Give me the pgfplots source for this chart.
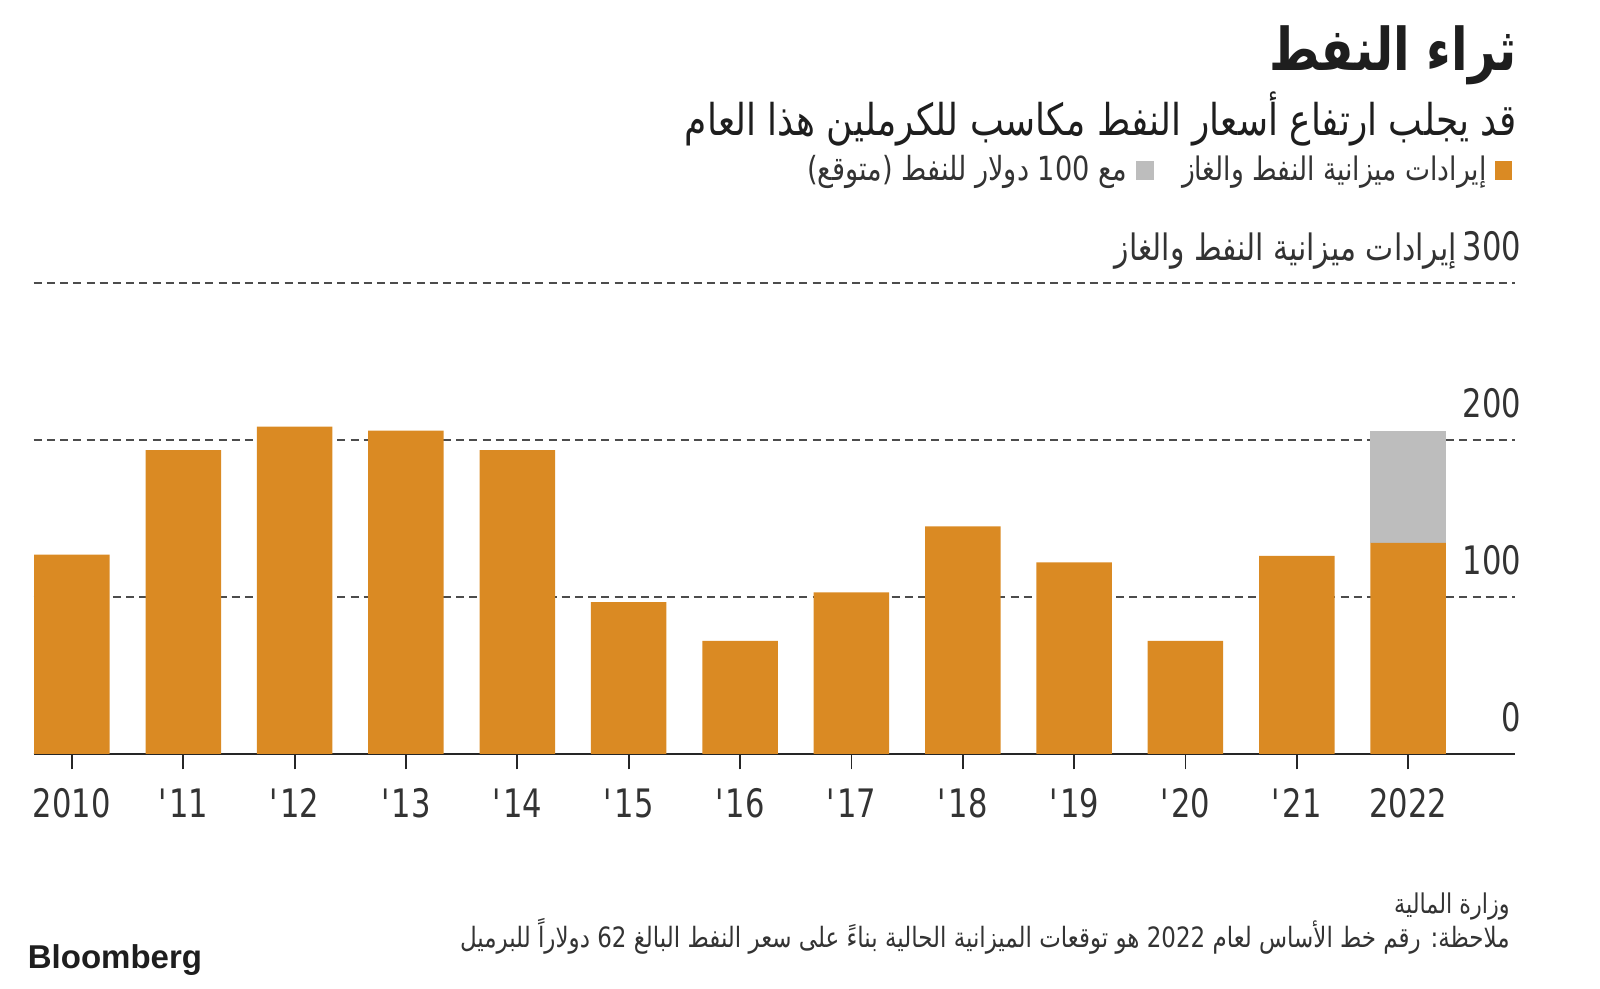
\documentclass[border=0pt]{standalone}
\usepackage{pgfplots}
\pgfplotsset{compat=1.18}
\usepackage{fontspec}
\setmainfont{DejaVu Sans}
\newfontfamily\arabicfont[Script=Arabic,FakeStretch=0.82]{DejaVu Sans}
\newfontfamily\numfont[FakeStretch=0.78]{DejaVu Sans}
\newfontfamily\logofont{Liberation Sans}
\TeXXeTstate=1
\definecolor{barorange}{HTML}{DA8A23}
\definecolor{bargray}{HTML}{BDBDBD}
\definecolor{txt}{HTML}{1E1E1E}
\definecolor{txtb}{HTML}{333333}

\pgfplotstableread{
x main extra
0 127.0 0
1 193.5 0
2 208.5 0
3 206.0 0
4 193.5 0
5 96.8 0
6 72.0 0
7 103.0 0
8 145.0 0
9 122.0 0
10 72.0 0
11 126.2 0
12 134.5 71.5
}\revdata

\begin{document}
\begin{tikzpicture}
\path[use as bounding box] (0,0) rectangle (800bp,494.5bp);
\begin{axis}[
  at={(16.85bp,117.5bp)}, anchor=south west,
  scale only axis, width=740.8bp, height=235.5bp,
  xmin=-0.343, xmax=12.962, ymin=0, ymax=300,
  clip=false,
  ybar stacked, bar width=0.678,
  axis x line*=bottom, axis y line*=right,
  x axis line style={draw=none}, y axis line style={draw=none},
  xtick={0,...,12},
  xticklabels={2010,\textquotesingle 11,\textquotesingle 12,\textquotesingle 13,\textquotesingle 14,\textquotesingle 15,\textquotesingle 16,\textquotesingle 17,\textquotesingle 18,\textquotesingle 19,\textquotesingle 20,\textquotesingle 21,2022},
  ytick={0,100,200,300},
  yticklabels={0,100,200,{{\arabicfont\fontsize{18.2bp}{20bp}\selectfont\beginR إيرادات ميزانية النفط والغاز\endR}\hspace{3bp}300}},
  tick align=outside,
  major tick length=7.7bp,
  xtick style={black!85, line width=0.9bp},
  ytick style={draw=none},
  ymajorgrids,
  major grid style={black!70, line width=0.6bp, dash pattern=on 4bp off 2.6bp},
  xticklabel style={font=\numfont\fontsize{19.6bp}{22bp}\selectfont, text=txtb, anchor=north, inner sep=0pt, yshift=-9.5bp},
  yticklabel style={font=\numfont\fontsize{19.6bp}{22bp}\selectfont, text=txtb, anchor=base east, inner sep=0pt, yshift=11bp, xshift=-4.5bp},
]
\addplot[fill=barorange, draw=none] table[x=x, y=main] {\revdata};
\addplot[fill=bargray, draw=none] table[x=x, y=extra] {\revdata};
\draw[black!85, line width=1.4bp] (axis cs:-0.343,0) -- (axis cs:12.962,0);
\end{axis}
\begin{scope}[x=0.5bp, y=-0.5bp, shift={(0bp,494.5bp)}]
\node[anchor=east, inner sep=0pt, text=txt] at (1517,55) {\arabicfont\bfseries\fontsize{29.5bp}{32bp}\selectfont\beginR ثراء النفط\endR};
\node[anchor=east, inner sep=0pt, text=txt] at (1517,119) {\arabicfont\fontsize{21.9bp}{24bp}\selectfont\beginR قد يجلب ارتفاع أسعار النفط مكاسب للكرملين هذا العام\endR};
\fill[barorange] (1495,161) rectangle (1512,180);
\node[anchor=east, inner sep=0pt, text=txtb] at (1487,172) {\arabicfont\fontsize{16.2bp}{18bp}\selectfont\beginR إيرادات ميزانية النفط والغاز\endR};
\fill[bargray] (1136,161) rectangle (1154,180);
\node[anchor=east, inner sep=0pt, text=txtb] at (1128,172) {\arabicfont\fontsize{16.6bp}{18bp}\selectfont\beginR مع 100 دولار للنفط (متوقع)\endR};
\node[anchor=east, inner sep=0pt, text=txtb] at (1510,907) {\arabicfont\fontsize{13.6bp}{15bp}\selectfont\beginR وزارة المالية\endR};
\node[anchor=east, inner sep=0pt, text=txtb] at (1510,936) {\arabicfont\fontsize{14bp}{15bp}\selectfont\beginR ملاحظة: رقم خط الأساس لعام 2022 هو توقعات الميزانية الحالية بناءً على سعر النفط البالغ 62 دولاراً للبرميل\endR};
\node[anchor=west, inner sep=0pt, text=txt] at (27.5,960) {\logofont\bfseries\fontsize{16.5bp}{18bp}\selectfont Bloomberg};
\end{scope}
\end{tikzpicture}
\end{document}
